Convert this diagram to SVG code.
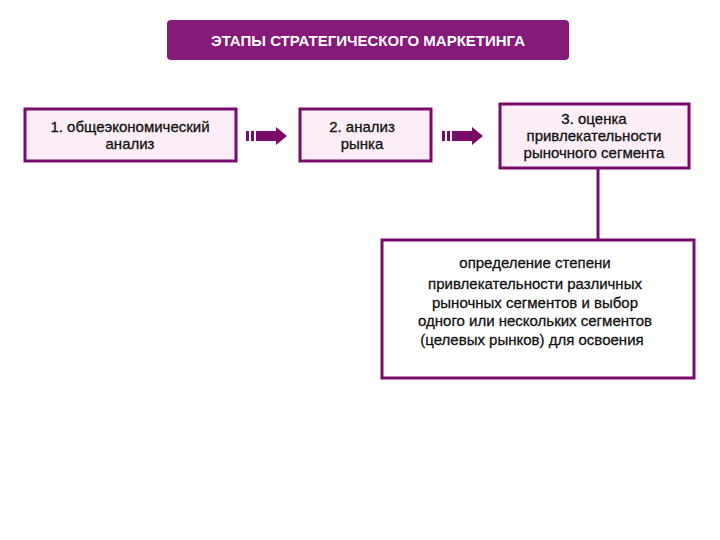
<svg xmlns="http://www.w3.org/2000/svg" width="720" height="540" viewBox="0 0 720 540">
<defs><style>
.t{font-family:"Liberation Sans",Arial,sans-serif;font-size:15px;fill:#111;text-anchor:middle;stroke:#111;stroke-width:0.3}
.b{fill:#fbeef6;stroke:#7a0b6b;stroke-width:3}
.a{fill:#7a0b6b}
</style>
<g id="arr"><rect class="a" x="0" y="4" width="3" height="10"/><rect class="a" x="5" y="4" width="3" height="10"/><rect class="a" x="10" y="4" width="20" height="10"/><polygon class="a" points="30,0 41,9 30,18"/></g>
</defs>
<rect width="720" height="540" fill="#fff"/>
<g id="title"><rect x="167" y="20" width="402" height="40" rx="4" fill="#861a78"/><text class="t" x="368" y="46" style="fill:#fff;stroke:none;font-size:15px;font-weight:bold">ЭТАПЫ СТРАТЕГИЧЕСКОГО МАРКЕТИНГА</text></g>
<g id="n1"><rect class="b" x="25" y="109" width="211" height="52"/><text class="t" x="130" y="132">1. общеэкономический</text><text class="t" x="130" y="149">анализ</text></g>
<g id="n2"><rect class="b" x="300" y="109" width="131" height="52"/><text class="t" x="362" y="132">2. анализ</text><text class="t" x="362" y="149">рынка</text></g>
<g id="n3"><rect class="b" x="500" y="104" width="189" height="64"/><text class="t" x="594" y="124">3. оценка</text><text class="t" x="594" y="141">привлекательности</text><text class="t" x="594" y="158">рыночного сегмента</text></g>
<g id="n4"><rect x="382" y="240" width="312" height="138" fill="#fff" stroke="#7a0b6b" stroke-width="3"/>
<text class="t" x="535" y="268">определение степени</text><text class="t" x="535" y="289">привлекательности различных</text><text class="t" x="535" y="308">рыночных сегментов и выбор</text><text class="t" x="535" y="326">одного или нескольких сегментов</text><text class="t" x="532" y="345">(целевых рынков) для освоения</text></g>
<g id="connectors"><use href="#arr" x="246" y="127"/><use href="#arr" x="442" y="127"/><line x1="598" y1="168" x2="598" y2="240" stroke="#7a0b6b" stroke-width="3"/></g>
</svg>
